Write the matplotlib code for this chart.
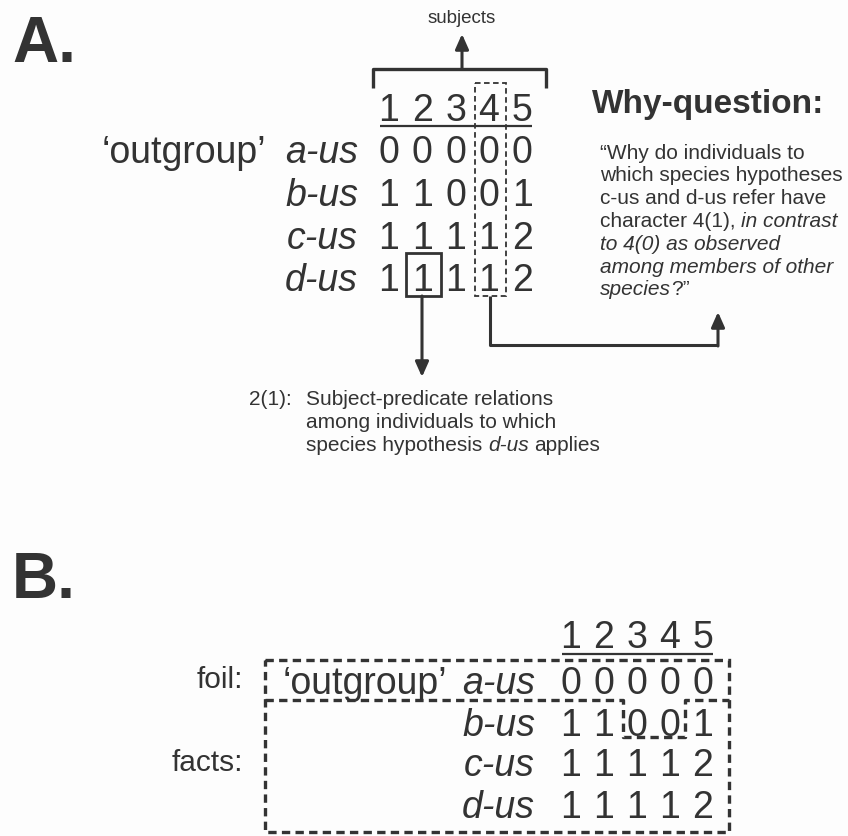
import matplotlib
matplotlib.use("Agg")
import matplotlib.pyplot as plt
from matplotlib.patches import Rectangle

plt.rcParams['font.family'] = ['Liberation Sans', 'DejaVu Sans']
plt.rcParams['lines.scale_dashes'] = False

# data
characters = [1, 2, 3, 4, 5]
species = ['a-us', 'b-us', 'c-us', 'd-us']
states = [[0, 0, 0, 0, 0],
          [1, 1, 0, 0, 1],
          [1, 1, 1, 1, 2],
          [1, 1, 1, 1, 2]]
why_lines = [
    [('\u201cWhy do individuals to', 'normal')],
    [('which species hypotheses', 'normal')],
    [('c-us and d-us refer have', 'normal')],
    [('character 4(1),', 'normal'), ('in contrast', 'italic')],
    [('to 4(0) as observed', 'italic')],
    [('among members of other', 'italic')],
    [('species', 'italic'), ('?\u201d', 'normal')],
]
note_lines = [
    [('Subject-predicate relations', 'normal')],
    [('among individuals to which', 'normal')],
    [('species hypothesis', 'normal'), ('d-us', 'italic'), ('applies', 'normal')],
]

ink = '#333333'
fig = plt.figure(figsize=(8.48, 8.37), dpi=100, facecolor='#fdfdfd')
ax = fig.add_axes([0, 0, 1, 1])
ax.set_xlim(0, 848)
ax.set_ylim(837, 0)
ax.axis('off')
renderer = fig.canvas.get_renderer()


def rich(x, y, parts, size):
    # draw text pieces one after another, separated by a space
    space = 0.278 * size * 100 / 72
    for i, (s, st) in enumerate(parts):
        if i > 0 and not s.startswith('?'):
            x += space
        t = ax.text(x, y, s, fontsize=size, style=st, color=ink, va='baseline', ha='left')
        x += t.get_window_extent(renderer).width


def line(xs, ys, lw=2.2, **kw):
    ax.plot(xs, ys, color=ink, lw=lw, solid_capstyle='butt', **kw)


def arrow(x0, y0, x1, y1):
    ax.annotate('', xy=(x1, y1), xytext=(x0, y0),
                arrowprops=dict(arrowstyle='-|>,head_length=0.9,head_width=0.4',
                                color=ink, lw=2.2, shrinkA=0, shrinkB=0))


big = 27
half = 13.5  # half digit height in px

# ---------------- panel A ----------------
ax.text(12, 62, 'A.', fontsize=46, fontweight='bold', color=ink, va='baseline')

colA = [389 + 33.3 * i for i in range(5)]
rowA = [149, 192, 235, 277]
for x, c in zip(colA, characters):
    ax.text(x, 107 + half, str(c), fontsize=big, color=ink, ha='center', va='baseline')
line([380, 532], [127, 127], lw=1.6)
for r, (sp, y) in enumerate(zip(species, rowA)):
    ax.text(358, y + half, sp, fontsize=big, style='italic', color=ink, ha='right', va='baseline')
    for x, v in zip(colA, states[r]):
        ax.text(x, y + half, str(v), fontsize=big, color=ink, ha='center', va='baseline')
ax.text(266, rowA[0] + half, '\u2018outgroup\u2019', fontsize=big, color=ink, ha='right', va='baseline')

# bracket + subjects
line([373, 373, 546, 546], [89, 70, 70, 89], lw=2.4)
arrow(462, 70, 462, 35)
ax.text(462, 18, 'subjects', fontsize=13.5, color=ink, ha='center', va='center')

# column 4 dashed box, solid box around d-us character 2
ax.add_patch(Rectangle((475, 84), 31, 213, fill=False, ec=ink, lw=1.3, ls=(0, (4, 2.5))))
ax.add_patch(Rectangle((406, 254), 35, 43, fill=False, ec=ink, lw=2))

arrow(422, 297, 422, 378)
line([490, 490, 718], [297, 346, 346], lw=2.2)
arrow(718, 347, 718, 313)

# why-question
ax.text(592, 113, 'Why-question:', fontsize=24, fontweight='bold', color=ink, va='baseline')
for i, parts in enumerate(why_lines):
    rich(600, 158.5 + 22.8 * i, parts, 15)

# note under arrow
ax.text(249, 405, '2(1):', fontsize=15, color=ink, va='baseline')
for i, parts in enumerate(note_lines):
    rich(306, 405 + 23 * i, parts, 15)

# ---------------- panel B ----------------
ax.text(12, 598, 'B.', fontsize=46, fontweight='bold', color=ink, va='baseline')

colB = [571 + 33 * i for i in range(5)]
rowB = [680, 722, 763, 805]
for x, c in zip(colB, characters):
    ax.text(x, 635 + half, str(c), fontsize=big, color=ink, ha='center', va='baseline')
line([562, 713], [655, 655], lw=1.6)
for r, (sp, y) in enumerate(zip(species, rowB)):
    ax.text(535, y + half, sp, fontsize=big, style='italic', color=ink, ha='right', va='baseline')
    for x, v in zip(colB, states[r]):
        ax.text(x, y + half, str(v), fontsize=big, color=ink, ha='center', va='baseline')
ax.text(447, rowB[0] + half, '\u2018outgroup\u2019', fontsize=big, color=ink, ha='right', va='baseline')

ax.text(243, rowB[0], 'foil:', fontsize=21.5, color=ink, ha='right', va='center')
ax.text(243, rowB[2], 'facts:', fontsize=21.5, color=ink, ha='right', va='center')

dash = (0, (6, 3.8))
ax.add_patch(Rectangle((265, 661), 464, 172, fill=False, ec=ink, lw=2.4, ls=dash))
line([265, 623, 623, 685, 685, 729], [701, 701, 738, 738, 701, 701], lw=2.4, ls=dash)

fig.savefig('out.png', dpi=100, facecolor=fig.get_facecolor())
